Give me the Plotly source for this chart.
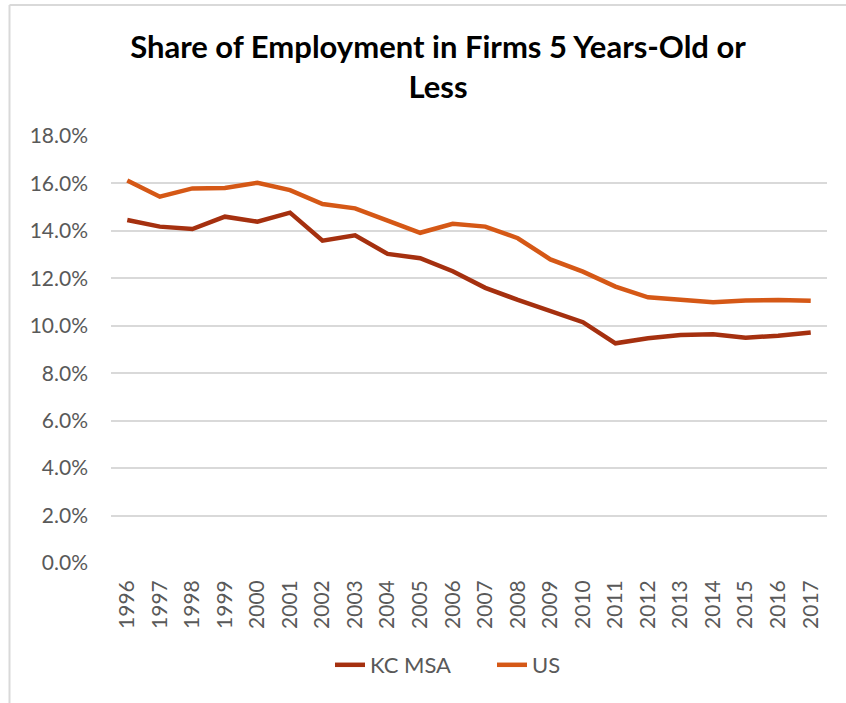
import plotly.graph_objects as go

years = [str(y) for y in range(1996, 2018)]
kc_msa = [14.46, 14.18, 14.08, 14.60, 14.39, 14.77, 13.59, 13.81, 13.03, 12.85, 12.30,
          11.60, 11.09, 10.62, 10.15, 9.26, 9.47, 9.61, 9.64, 9.50, 9.58, 9.72]
us = [16.12, 15.44, 15.79, 15.81, 16.03, 15.72, 15.13, 14.95, 14.43, 13.92, 14.30,
      14.18, 13.69, 12.80, 12.28, 11.65, 11.20, 11.09, 10.99, 11.07, 11.09, 11.06]
kc_vals = [v / 100 for v in kc_msa]
us_vals = [v / 100 for v in us]

W, H = 846, 703
L, R, T, B = 111, 19, 136, 140
pw, ph = W - L - R, H - T - B

FONT = "Lato"
fig = go.Figure()
fig.add_trace(go.Scatter(x=years, y=kc_vals, mode="lines", name="KC MSA",
                         line=dict(color="#A5300F", width=4.5)))
fig.add_trace(go.Scatter(x=years, y=us_vals, mode="lines", name="US",
                         line=dict(color="#D55816", width=4.5)))

fig.update_layout(
    width=W, height=H,
    margin=dict(l=L, r=R, t=T, b=B),
    paper_bgcolor="white", plot_bgcolor="white",
    title=dict(text="<b>Share of Employment in Firms 5 Years-Old or<br>Less</b>",
               x=(438 - L) / pw, xref="paper", xanchor="center",
               y=1 - 58 / H, yref="container", yanchor="top",
               font=dict(family=FONT, size=31, color="#000000")),
    font=dict(family=FONT, color="#595959"),
    xaxis=dict(type="category", range=[-0.5, 21.5], tickangle=-90,
               showgrid=False, showline=False, zeroline=False, ticks="",
               tickfont=dict(size=21, color="#595959"), ticklabelstandoff=12),
    yaxis=dict(range=[0, 0.18], dtick=0.02, tickformat=".1%",
               showgrid=True, gridcolor="#D9D9D9", gridwidth=1.5,
               zeroline=False, showline=False, ticks="",
               tickfont=dict(size=21, color="#595959"), ticklabelstandoff=22),
    showlegend=True,
    legend=dict(orientation="h", x=(330 - L) / pw, xanchor="left",
                y=-(665 - 563) / ph, yanchor="middle",
                entrywidth=117, entrywidthmode="pixels",
                font=dict(family=FONT, size=22, color="#595959"),
                bgcolor="rgba(0,0,0,0)"),
    shapes=[
        dict(type="line", xref="paper", yref="paper",
             x0=(9.5 - L) / pw, x1=(9.5 - L) / pw, y0=(563 - 5) / ph, y1=-(H - 563) / ph,
             line=dict(color="#D9D9D9", width=2)),
        dict(type="line", xref="paper", yref="paper",
             x0=(9.5 - L) / pw, x1=(W - L + 5) / pw, y0=(563 - 5) / ph, y1=(563 - 5) / ph,
             line=dict(color="#D9D9D9", width=2)),
    ],
)

fig.write_html("out.html", config={"displayModeBar": False},
               post_script="document.body.style.margin='0px';")
